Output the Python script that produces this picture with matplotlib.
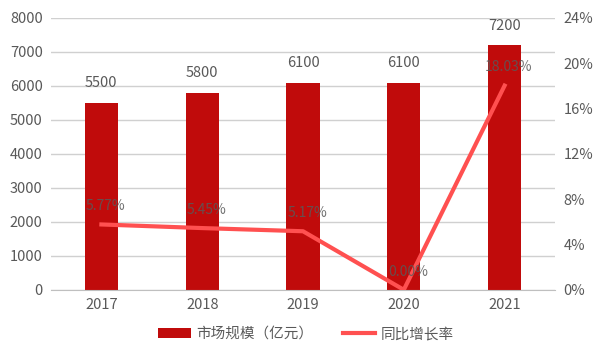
import matplotlib
matplotlib.use("Agg")
import matplotlib.pyplot as plt
from matplotlib.ticker import FuncFormatter

plt.rcParams["font.family"] = ["Noto Sans CJK SC", "DejaVu Sans"]

years = ["2017", "2018", "2019", "2020", "2021"]
market_size = [5500, 5800, 6100, 6100, 7200]
growth_pct = [5.77, 5.45, 5.17, 0.00, 18.03]

BAR_COLOR = "#C00B0B"
LINE_COLOR = "#FF5050"
TEXT_COLOR = "#595959"
GRID_COLOR = "#D0D0D0"

fig = plt.figure(figsize=(6, 3.6), dpi=100)
ax = fig.add_axes([0.085, 0.195, 0.84, 0.755])
x = range(len(years))

bars = ax.bar(x, market_size, width=0.33, color=BAR_COLOR, zorder=2, label="市场规模（亿元）")
for xi, v in zip(x, market_size):
    ax.annotate(str(v), (xi, v), xytext=(0, 9), textcoords="offset points",
                ha="center", va="bottom", fontsize=10.5, color=TEXT_COLOR)

ax.set_ylim(0, 8000)
ax.set_yticks(range(0, 8001, 1000))
ax.set_xlim(-0.5, len(years) - 0.5)
ax.set_xticks(list(x))
ax.set_xticklabels(years)
ax.grid(axis="y", color=GRID_COLOR, linewidth=1, zorder=0)
for side in ("top", "right", "left"):
    ax.spines[side].set_visible(False)
ax.spines["bottom"].set_color("#BFBFBF")
ax.tick_params(length=0, labelsize=10.5, labelcolor=TEXT_COLOR, pad=6)

ax2 = ax.twinx()
line, = ax2.plot(x, growth_pct, color=LINE_COLOR, linewidth=3, zorder=3, label="同比增长率")
for xi, v in zip(x, growth_pct):
    ax2.annotate(f"{v:.2f}%", (xi, v), xytext=(3, 8), textcoords="offset points",
                 ha="center", va="bottom", fontsize=10, color=TEXT_COLOR, alpha=0.85)
ax2.set_ylim(0, 24)
ax2.set_yticks(range(0, 25, 4))
ax2.yaxis.set_major_formatter(FuncFormatter(lambda v, _: f"{v:.0f}%"))
for side in ("top", "right", "left", "bottom"):
    ax2.spines[side].set_visible(False)
ax2.tick_params(length=0, labelsize=10.5, labelcolor=TEXT_COLOR, pad=6)

fig.legend(handles=[bars, line], loc="center", bbox_to_anchor=(0.51, 0.072), ncol=2,
           frameon=False, fontsize=10.5, labelcolor=TEXT_COLOR, handlelength=2.2,
           handletextpad=0.4, columnspacing=2.0, handleheight=0.6)

fig.savefig("out.png", dpi=100)
